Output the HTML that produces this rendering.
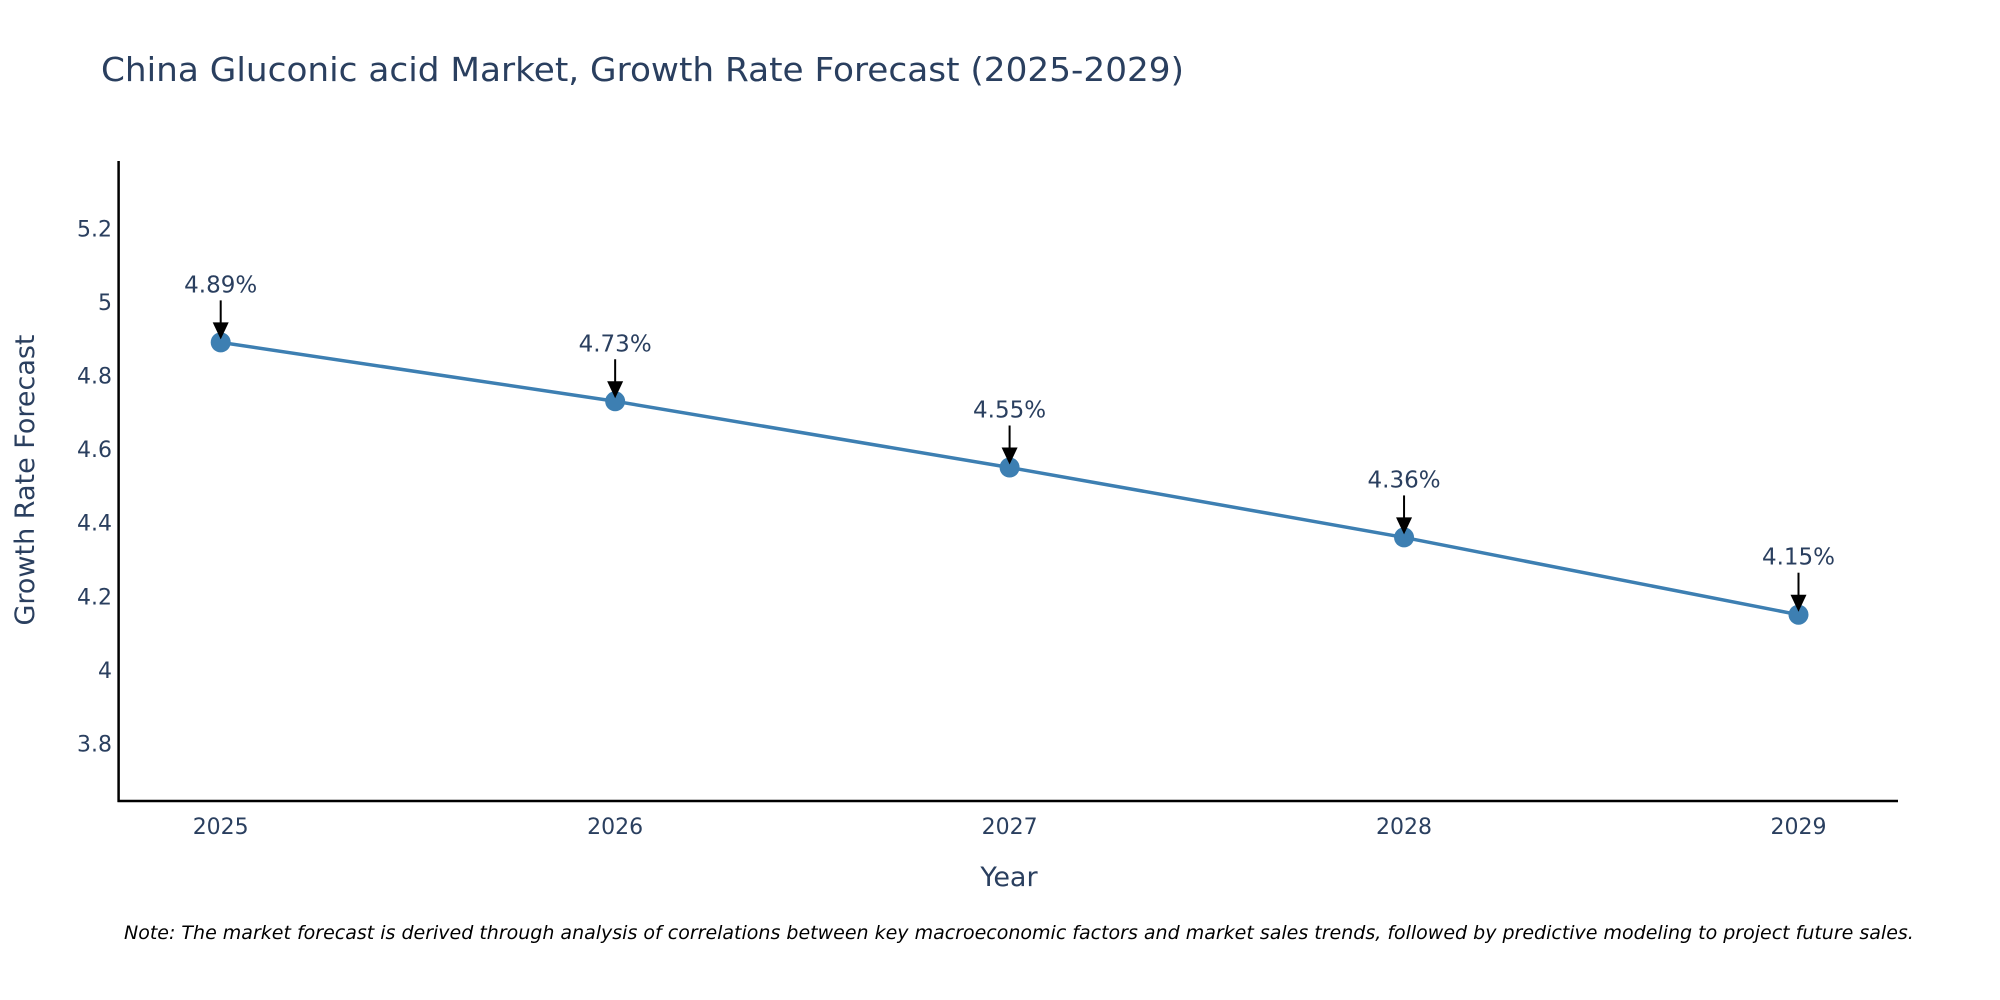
<!DOCTYPE html>
<html><head><meta charset="utf-8"><style>
html,body{margin:0;padding:0;background:#fff;}
svg{display:block;font-family:"DejaVu Sans","Liberation Sans",sans-serif;}
</style></head><body>
<svg id="chart" width="2000" height="1000" viewBox="0 0 2000 1000">
<text x="101" y="81" font-size="33" fill="#2a3f5f" textLength="1083" lengthAdjust="spacingAndGlyphs">China Gluconic acid Market, Growth Rate Forecast (2025-2029)</text>
<g id="yticks"></g>
<g id="xticks"></g>
<line x1="118.6" y1="161" x2="118.6" y2="802" stroke="#000" stroke-width="2.5"/>
<line x1="117.5" y1="801" x2="1898" y2="801" stroke="#000" stroke-width="2.5"/>
<g id="series"></g>
<g id="annots"></g>
<text x="1009" y="886" font-size="27" fill="#2a3f5f" text-anchor="middle">Year</text>
<text transform="translate(34,480) rotate(-90)" font-size="27" fill="#2a3f5f" text-anchor="middle">Growth Rate Forecast</text>
<text x="124" y="939" font-size="19" font-style="italic" fill="#000">Note: The market forecast is derived through analysis of correlations between key macroeconomic factors and market sales trends, followed by predictive modeling to project future sales.</text>
</svg>
<script>
const years = [2025, 2026, 2027, 2028, 2029];
const rates = [4.89, 4.73, 4.55, 4.36, 4.15];
const labels = ["4.89%", "4.73%", "4.55%", "4.36%", "4.15%"];
const yTicks = [3.8, 4, 4.2, 4.4, 4.6, 4.8, 5, 5.2];
const yTickLabels = ["3.8", "4", "4.2", "4.4", "4.6", "4.8", "5", "5.2"];

const NS = "http://www.w3.org/2000/svg";
function xs(v){ return 220.7 + (v - 2025) * 394.45; }
function ys(v){ return 228.3 + (5.2 - v) / 0.2 * 73.6; }
function mk(tag, attrs, parent){
  const e = document.createElementNS(NS, tag);
  for (const k in attrs) e.setAttribute(k, attrs[k]);
  parent.appendChild(e); return e;
}
const yt = document.getElementById('yticks');
yTicks.forEach((v,i)=>{
  const t = mk('text',{x:112,y:ys(v)+8,'font-size':22,fill:'#2a3f5f','text-anchor':'end'},yt);
  
  
  t.textContent = yTickLabels[i];
});
const xt = document.getElementById('xticks');
years.forEach(v=>{
  const t = mk('text',{x:xs(v),y:834,'font-size':22,fill:'#2a3f5f','text-anchor':'middle'},xt);
  
  
  t.textContent = String(v);
});
const s = document.getElementById('series');
const pl = mk('polyline',{points:years.map((y,i)=>xs(y)+','+ys(rates[i])).join(' '),fill:'none',stroke:'#3d7fb2','stroke-width':3.5},s);


years.forEach((y,i)=>{
  const c = mk('circle',{cx:xs(y),cy:ys(rates[i]),r:10,fill:'#3d7fb2'},s);
  
  
});
const a = document.getElementById('annots');
years.forEach((y,i)=>{
  const cx = xs(y), cy = ys(rates[i]);
  const g = mk('g',{},a);
  
  
  mk('line',{x1:cx,y1:cy-42,x2:cx,y2:cy-18,stroke:'#000','stroke-width':2},g);
  mk('polygon',{points:(cx-8)+','+(cy-20)+' '+(cx+8)+','+(cy-20)+' '+cx+','+(cy-3),fill:'#000'},g);
  const t = mk('text',{x:cx,y:cy-50,'font-size':23,fill:'#2a3f5f','text-anchor':'middle'},g);
  
  
  t.textContent = labels[i];
});
</script>
</body></html>
